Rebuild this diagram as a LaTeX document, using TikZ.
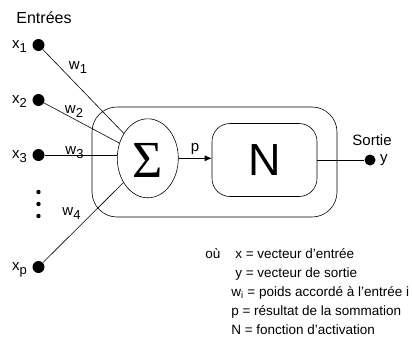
\documentclass[tikz,border=0pt]{standalone}
\usepackage{fontspec}
\setmainfont{Liberation Sans}
\newfontfamily\grfont{Liberation Serif}
\usepackage{tikz}
\usetikzlibrary{positioning,arrows.meta,shapes.geometric}
\newcommand{\idx}[1]{\raisebox{-4pt}[0pt][0pt]{\fontsize{13}{13}\selectfont #1}}
\tikzset{
 dot/.style={circle, fill=black, inner sep=0pt, minimum size=12pt},
 lbl/.style={inner sep=1pt, font=\fontsize{15}{17}\selectfont},
 leg/.style={anchor=base west, inner sep=0pt, font=\fontsize{13.5}{16}\selectfont},
 sumnode/.style={ellipse, draw, minimum width=61pt, minimum height=79pt,
 inner sep=0pt, text height=38.5pt, font=\grfont\fontsize{52}{54}\selectfont},
 actnode/.style={rectangle, rounded corners=18pt, draw, minimum width=105pt,
 minimum height=73pt, font=\fontsize{45}{47}\selectfont},
 neuron/.style={rectangle, rounded corners=25pt, draw, minimum width=245pt,
 minimum height=110pt},
 fl/.style={-{Latex[length=7pt,width=6pt]}},
}

\begin{document}
\begin{tikzpicture}[x=1pt, y=-1pt, line width=0.6pt]
 \useasboundingbox (0,0) rectangle (412,340);
 % neuron
 \node[neuron] (cell) at (214.5,162) {};
 \node[sumnode] (sig) at (147.8,158.3) {Σ};
 \node[actnode] (act) at (264.5,160) {N};

 % inputs
 \node[lbl, font=\fontsize{16}{18}\selectfont] (title) at (44,18) {Entrées};
 \node[dot] (x1) at (38.5,45) {};
 \node[dot] (x2) at (38.5,100) {};
 \node[dot] (x3) at (38.5,155) {};
 \node[dot] (xp) at (38.5,267) {};
 \node[lbl, left=4pt of x1] (lx1) {x\idx{1}};
 \node[lbl, left=4pt of x2] (lx2) {x\idx{2}};
 \node[lbl, left=4pt of x3] (lx3) {x\idx{3}};
 \node[lbl, left=4pt of xp] (lxp) {x\idx{p}};
 \foreach \y in {192,204,216}
 \fill (38.5,\y) circle (2.2pt);

 \draw (x1) -- (sig);
 \draw (x2) -- (sig);
 \draw (x3) -- (x3 -| sig.west);
 \draw (xp) -- (sig);
 \node[lbl] (w1) at (78,66) {w\idx{1}};
 \node[lbl] (w2) at (74,110) {w\idx{2}};
 \node[lbl] (w3) at (74.5,151) {w\idx{3}};
 \node[lbl] (w4) at (71.5,212) {w\idx{4}};

 % output
 \draw[fl] (sig.east) -- node[lbl, above=2pt] {p} (sig.east -| act.west);
 \node[dot, minimum size=11pt] (out) at (370,160) {};
 \draw (act) -- (out);
 \node[lbl, right=3pt of out] (ly) {y};
 \node[lbl] (sortie) at (372,140) {Sortie};

 % legend
 \node[leg] (ou) at (205,258) {où};
 \node[leg] (lg1) at (235,258) {x = vecteur d'entrée};
 \node[leg] (lg2) at (235,277) {y = vecteur de sortie};
 \node[leg] (lg3) at (231,296) {w\textsubscript{i} = poids accordé à l'entrée i};
 \node[leg] (lg4) at (231,315) {p = résultat de la sommation};
 \node[leg] (lg5) at (231,334) {N = fonction d'activation};
\end{tikzpicture}
\end{document}
